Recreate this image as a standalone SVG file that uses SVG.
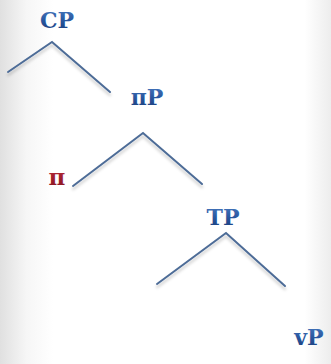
<svg xmlns="http://www.w3.org/2000/svg" width="331" height="364" viewBox="0 0 331 364">
  <defs>
    <linearGradient id="bgLeft" x1="0" y1="0" x2="1" y2="0">
      <stop offset="0" stop-color="#e0e0e0"/>
      <stop offset="0.08" stop-color="#f6f6f6"/>
      <stop offset="0.16" stop-color="#ffffff"/>
      <stop offset="0.92" stop-color="#ffffff"/>
      <stop offset="1" stop-color="#ededed"/>
    </linearGradient>
    <linearGradient id="labelFill" x1="0" y1="0" x2="0" y2="1">
      <stop offset="0" stop-color="#4a7cc2"/>
      <stop offset="0.5" stop-color="#2a58a0"/>
      <stop offset="1" stop-color="#183a78"/>
    </linearGradient>
    <linearGradient id="headFill" x1="0" y1="0" x2="0" y2="1">
      <stop offset="0" stop-color="#c0303c"/>
      <stop offset="1" stop-color="#861420"/>
    </linearGradient>
    <filter id="shadow" x="-20%" y="-20%" width="140%" height="160%">
      <feDropShadow dx="0" dy="3" stdDeviation="1.5" flood-color="#000" flood-opacity="0.22"/>
    </filter>
  </defs>
  <style>
    .label { font-family: "DejaVu Serif", "Liberation Serif", serif; font-weight: bold; font-size: 22px; fill: url(#labelFill); text-anchor: middle; }
    .head { font-family: "DejaVu Serif", "Liberation Serif", serif; font-weight: bold; font-size: 23px; fill: url(#headFill); text-anchor: middle; }
    .branch { fill: none; stroke: #4d6c97; stroke-width: 2; stroke-linecap: round; stroke-linejoin: miter; filter: url(#shadow); }
  </style>

  <rect x="0" y="0" width="331" height="364" fill="url(#bgLeft)"/>

  <g id="connectors">
    <polyline class="branch" points="8,72 52,42 110,92"/>
    <polyline class="branch" points="73,186 143,133 202,184"/>
    <polyline class="branch" points="157,284 226,233 285,286"/>
  </g>

  <g id="node-CP"><text class="label" x="57" y="28">CP</text></g>
  <g id="node-piP"><text class="label" x="147" y="105">πP</text></g>
  <g id="node-pi"><text class="head" x="57" y="185">π</text></g>
  <g id="node-TP"><text class="label" x="223" y="225">TP</text></g>
  <g id="node-vP"><text class="label" x="309" y="345">vP</text></g>
</svg>
